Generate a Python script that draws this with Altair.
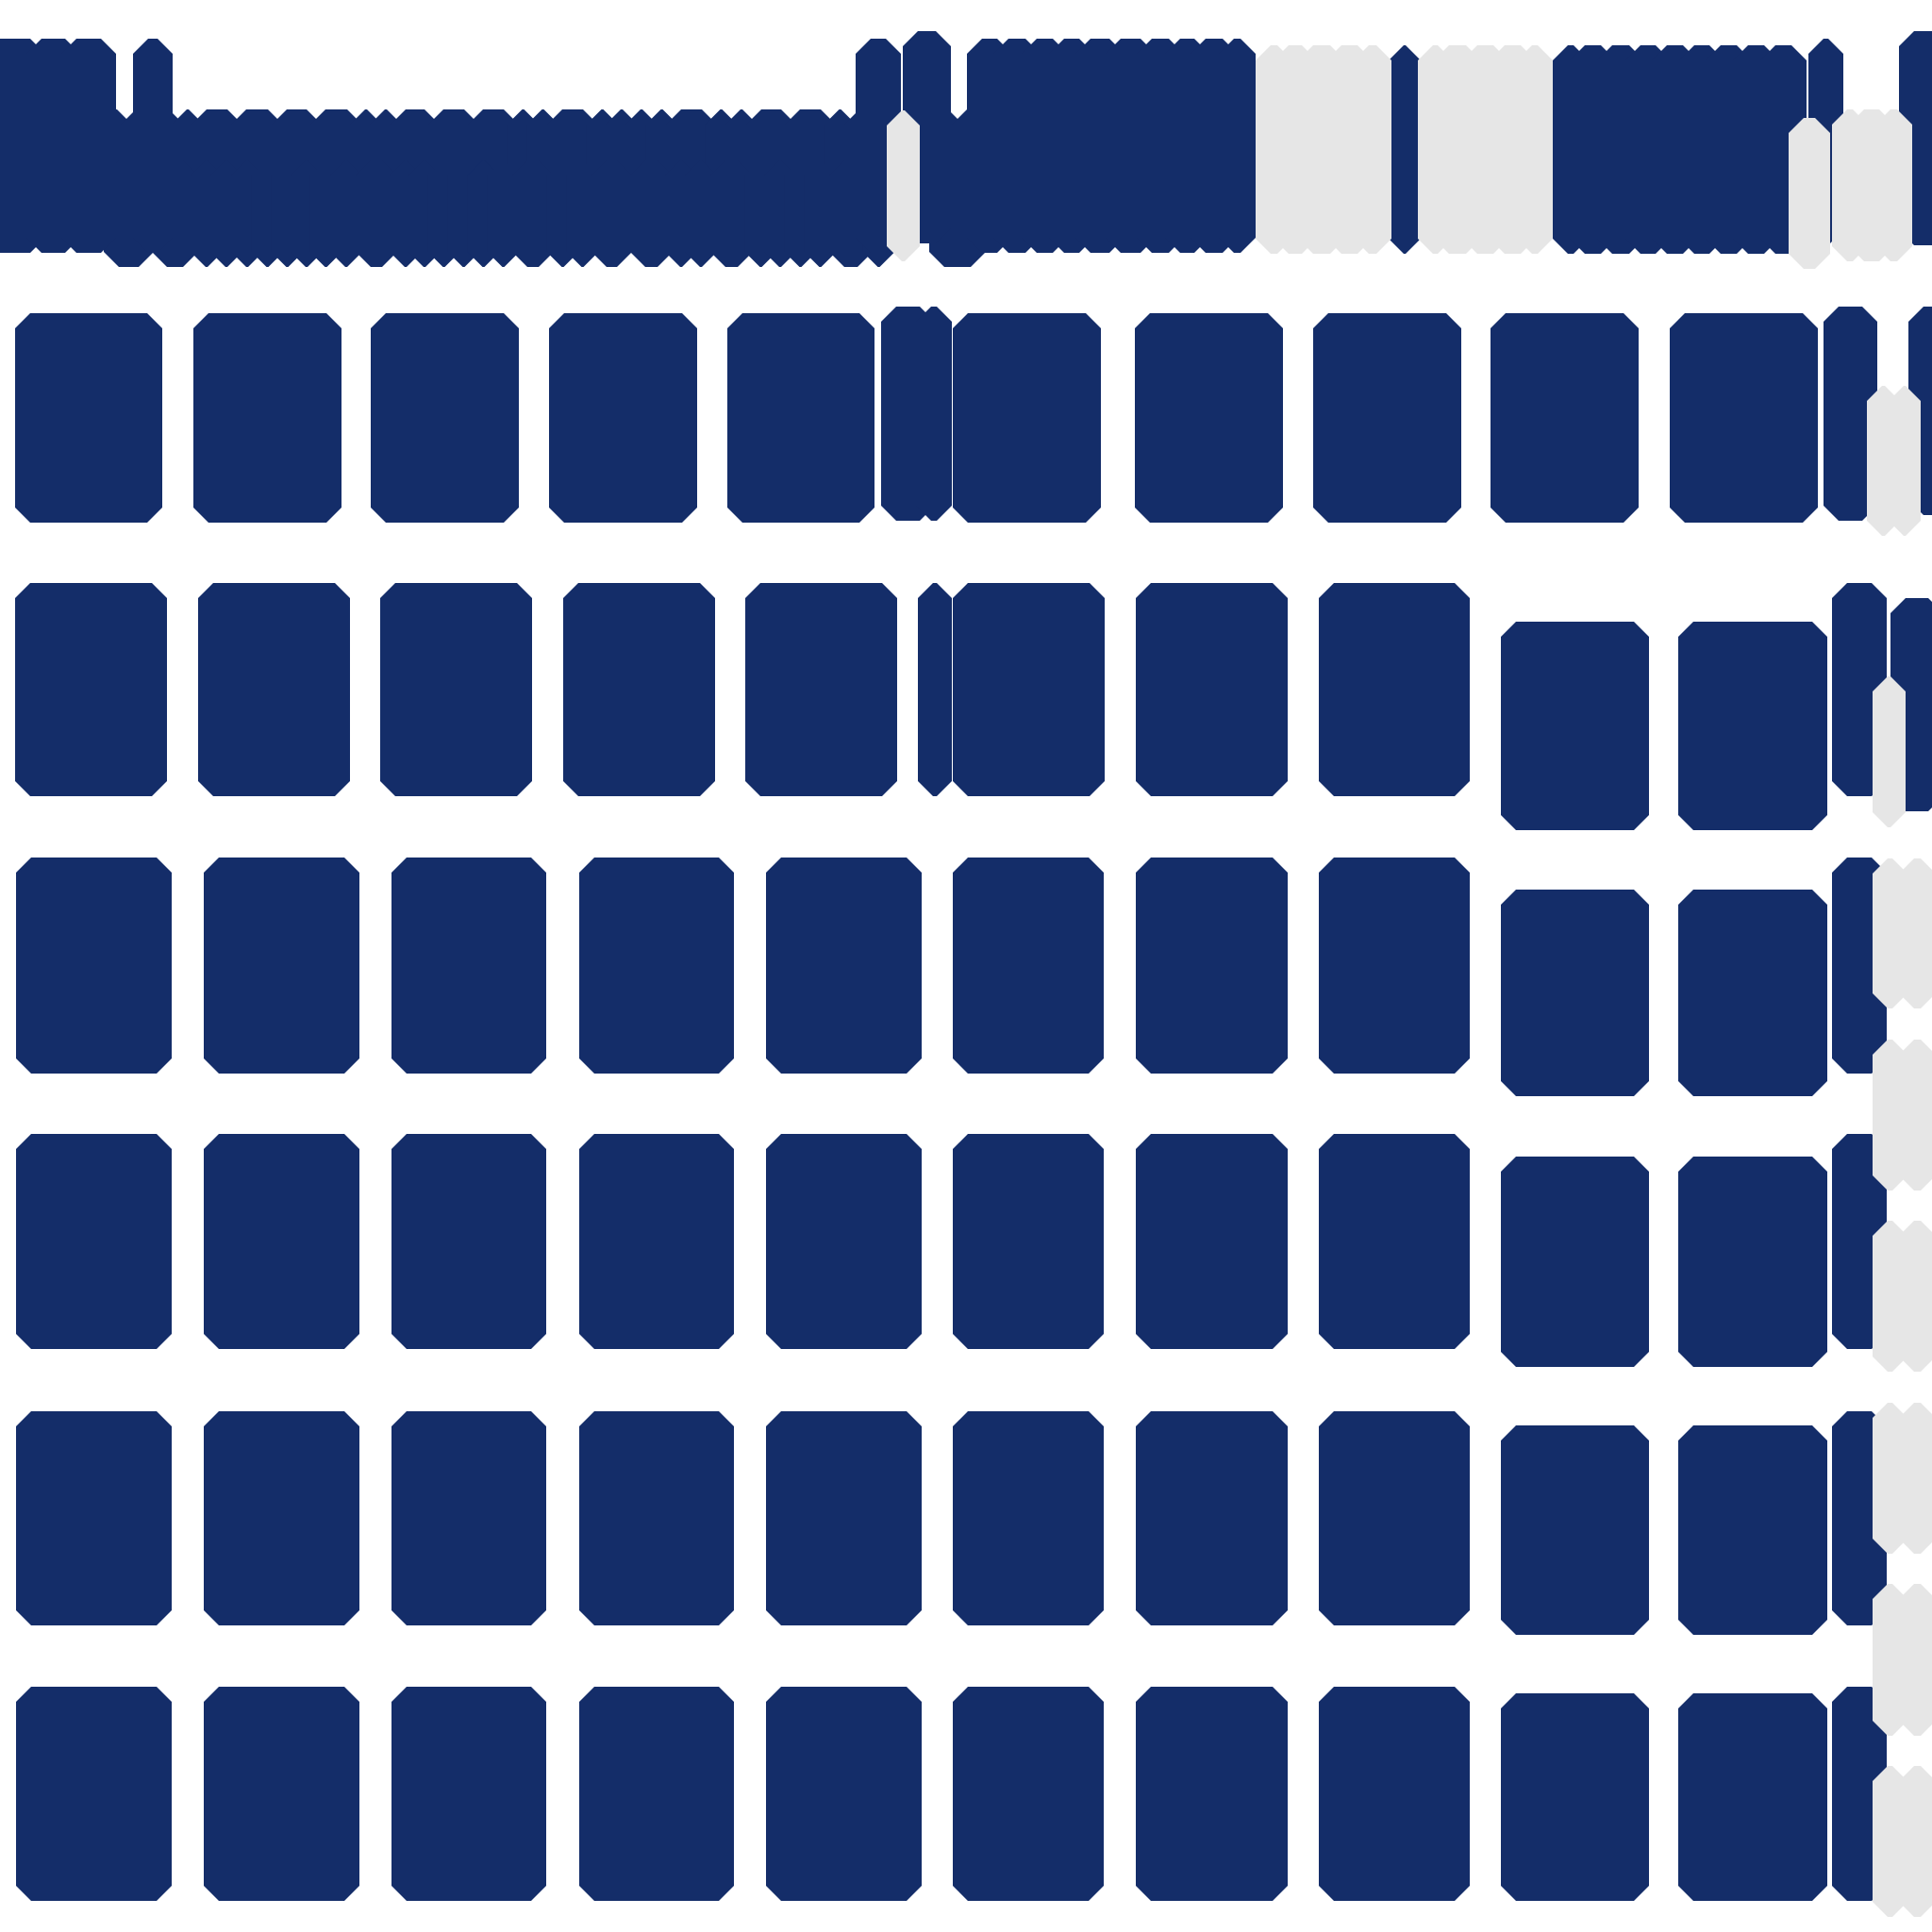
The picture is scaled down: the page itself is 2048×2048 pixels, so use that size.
import altair as alt
import pandas as pd

NAVY = "#142d69"
GRAY = "#e6e6e6"
STROKE = 32
HALF = STROKE / 2

# ---- top line: glyph runs (boundaries between neighbouring glyph blocks) ----
# tall dark runs: (boundaries, top, bottom)
top_tall_dark = [
    ([-30, 38, 75, 123], 41, 268),
    ([141, 183], 41, 268),
    ([907, 955], 41, 268),
    ([957, 1008], 33, 258),
    ([1025, 1063, 1093, 1122, 1150, 1182, 1215, 1245, 1272, 1302, 1331], 41, 268),
    ([1473, 1505], 48, 269),
    ([1646, 1674, 1703, 1733, 1761, 1790, 1818, 1847, 1876, 1915], 48, 269),
    ([1917, 1954], 41, 260),
    ([2013, 2070], 33, 260),
]
# short dark runs (x-height blocks): upper halves follow the top joints,
# lower halves follow the bottom joints
top_short_upper = [
    ([100, 134, 160, 189, 209, 251, 294, 335, 378, 398, 420, 460, 502, 544, 565,
      586, 628, 649, 669, 691, 712, 754, 775, 797, 838, 880, 901, 930], 116, 230),
    ([975, 1015, 1045], 116, 230),
]
top_short_lower = [
    ([110, 162, 209, 229, 251, 273, 294, 315, 335, 356, 378, 420, 440, 460, 481,
      502, 523, 544, 586, 607, 628, 669, 712, 732, 754, 797, 816, 838, 859, 880,
      924, 940], 170, 283),
    ([985, 1045], 170, 283),
]
# grey runs on the top line
top_gray = [
    ([1331, 1360, 1386, 1416, 1445, 1475], 48, 269),
    ([1503, 1530, 1560, 1589, 1618, 1646], 48, 269),
    ([940, 975], 117, 277),
    ([1896, 1940], 125, 285),
    ([1942, 1970, 1998, 2027], 116, 277),
]

# ---- block rows ----
row2_cells = [(16, 172), (205, 362), (393, 550), (582, 739), (771, 927),
              (1010, 1167), (1203, 1360), (1392, 1549), (1580, 1737), (1770, 1927)]
row2_y = (332, 554)
row2_narrow = [((934, 991), (325, 552)), ((971, 1009), (325, 552)),
               ((1933, 1990), (325, 552)), ((2023, 2070), (325, 546))]
row2_gray = [((1979, 2014), (409, 568)), ((2002, 2036), (409, 568))]

row3_cells = [(16, 177), (210, 371), (403, 564), (597, 758), (790, 951),
              (1010, 1171), (1204, 1365), (1398, 1558)]
row3_y = (618, 844)
row3_shift_cells = [(1591, 1748), (1779, 1937)]
row3_shift_y = (659, 880)
row3_narrow = [((973, 1009), (618, 844)), ((1942, 2000), (618, 844)),
               ((2004, 2060), (634, 860))]
row3_gray = [((1985, 2020), (717, 877))]

rows_cells = [(17, 182), (216, 381), (415, 579), (614, 778), (812, 977),
              (1010, 1170), (1204, 1365), (1398, 1558)]
rows_shift_cells = [(1591, 1748), (1779, 1937)]
rows_narrow_x = (1942, 2000)
rows_y = [(909, 1138), (1202, 1430), (1496, 1723), (1788, 2015)]
rows_shift_y = [(943, 1162), (1226, 1449), (1511, 1733), (1795, 2015)]

gray_col_x = [(1985, 2022), (2013, 2052)]
gray_col_y = [(910, 1069), (1102, 1262), (1294, 1454), (1487, 1647),
              (1679, 1840), (1872, 2032)]

records = []


def add(x0, x1, y0, y1, tone):
    records.append(dict(x0=x0, x1=x1, y0=y0, y1=y1, tone=tone))


def add_run(bounds, top, bottom, tone, overlap):
    n = len(bounds) - 1
    for i in range(n):
        l = bounds[i] - (overlap / 2 if i > 0 else 0)
        r = bounds[i + 1] + (overlap / 2 if i < n - 1 else 0)
        add(l, r, top, bottom, tone)


for b, t, bt in top_short_upper:
    add_run(b, t, bt, "dark", 12)
for b, t, bt in top_short_lower:
    add_run(b, t, bt, "dark", 2)
for b, t, bt in top_tall_dark:
    add_run(b, t, bt, "dark", 20)

for x0, x1 in row2_cells:
    add(x0, x1, *row2_y, "dark")
for (x0, x1), (y0, y1) in row2_narrow:
    add(x0, x1, y0, y1, "dark")

for x0, x1 in row3_cells:
    add(x0, x1, *row3_y, "dark")
for x0, x1 in row3_shift_cells:
    add(x0, x1, *row3_shift_y, "dark")
for (x0, x1), (y0, y1) in row3_narrow:
    add(x0, x1, y0, y1, "dark")

for (ya, yb), (sa, sb) in zip(rows_y, rows_shift_y):
    for x0, x1 in rows_cells:
        add(x0, x1, ya, yb, "dark")
    for x0, x1 in rows_shift_cells:
        add(x0, x1, sa, sb, "dark")
    add(rows_narrow_x[0], rows_narrow_x[1], ya, yb, "dark")

# grey glyphs are drawn last (on top)
for b, t, bt in top_gray:
    add_run(b, t, bt, "gray", 20)
for (x0, x1), (y0, y1) in row2_gray + row3_gray:
    add(x0, x1, y0, y1, "gray")
for ya, yb in gray_col_y:
    for x0, x1 in gray_col_x:
        add(x0, x1, ya, yb, "gray")

df = pd.DataFrame(records)
# the stroke adds half its width outside the rectangle: inset the fill accordingly
df["xa"] = df["x0"] + HALF
df["xb"] = df["x1"] - HALF
df["ya"] = df["y0"] + HALF
df["yb"] = df["y1"] - HALF
narrow = df["xb"] - df["xa"] < 2
mid = (df["x0"] + df["x1"]) / 2
df.loc[narrow, "xa"] = mid[narrow] - 1
df.loc[narrow, "xb"] = mid[narrow] + 1
df["order"] = range(len(df))

tone_scale = alt.Scale(domain=["dark", "gray"], range=[NAVY, GRAY])

chart = (
    alt.Chart(df)
    .mark_rect(strokeWidth=STROKE, strokeJoin="bevel")
    .encode(
        x=alt.X("xa:Q", scale=alt.Scale(domain=[0, 2048], nice=False, zero=False), axis=None),
        x2="xb:Q",
        y=alt.Y("ya:Q", scale=alt.Scale(domain=[0, 2048], nice=False, zero=False, reverse=True), axis=None),
        y2="yb:Q",
        color=alt.Color("tone:N", scale=tone_scale, legend=None),
        stroke=alt.Stroke("tone:N", scale=tone_scale, legend=None),
        order=alt.Order("order:Q"),
    )
    .properties(width=2048, height=2048, padding=0, autosize="none")
    .configure_view(stroke=None)
)

chart.save("out.html", embed_options={"renderer": "svg", "actions": False})
